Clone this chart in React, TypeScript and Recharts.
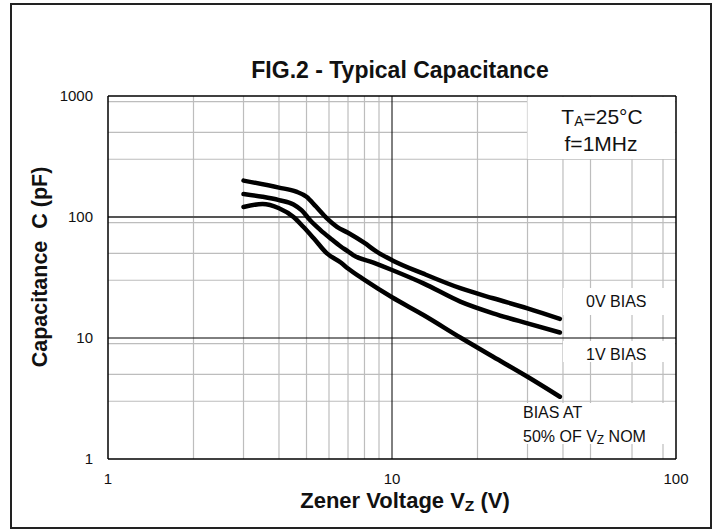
import React from "react";
import { LineChart, Line, XAxis, YAxis, CartesianGrid, ReferenceLine } from "recharts";

// Zener voltage (V) / capacitance (pF)
const zeroBiasV = [3.0, 4.0, 4.6, 5.0, 5.4, 5.9, 6.4, 7.0, 8.0, 8.8, 10, 12.9, 17.4, 22.7, 30, 39];
const zeroBiasC = [200, 175, 162, 147, 122, 97.5, 83, 74, 61, 52, 44, 34, 25.8, 21.3, 17.6, 14.4];

const oneBiasV = [3.0, 3.5, 4.0, 4.5, 4.8, 5.15, 5.6, 6.05, 6.6, 7.0, 7.3, 8.6, 10, 12.9, 17.4, 22.7, 30, 39];
const oneBiasC = [155, 147, 138, 127, 114, 94, 78, 67, 57, 52, 48.5, 42, 36.5, 28.3, 20, 16, 13.2, 11.1];

const halfBiasV = [3.0, 3.5, 4.0, 4.5, 4.87, 5.3, 5.9, 6.6, 7.0, 8.0, 10, 12.9, 17.4, 22.7, 30, 39];
const halfBiasC = [121, 128, 118, 100, 83, 66.7, 50, 42, 37.5, 30.2, 21.7, 15.5, 10.1, 7.0, 4.78, 3.27];

const xTicks = [1, 10, 100];
const yTicks = [1, 10, 100, 1000];
const xMinor = [2, 3, 4, 5, 6, 7, 8, 9, 20, 30, 40, 50, 60, 70, 80, 90];
const yMinor = [2, 3, 4, 5, 6, 7, 8, 9, 20, 30, 40, 50, 60, 70, 80, 90, 200, 300, 400, 500, 600, 700, 800, 900];

const toData = (vs: number[], cs: number[]) => vs.map((v, i) => ({ v, c: cs[i] }));
const zeroData = toData(zeroBiasV, zeroBiasC);
const oneData = toData(oneBiasV, oneBiasC);
const halfData = toData(halfBiasV, halfBiasC);

const FONT = "'Liberation Sans', Arial, sans-serif";

export default function App() {
  return (
    <div style={{ position: "absolute", left: 0, top: 0, width: 721, height: 529, background: "#fff" }}>
      <LineChart width={721} height={529} margin={{ top: 96, right: 45, bottom: 30, left: 8 }}>
        <CartesianGrid horizontalValues={yMinor} verticalValues={xMinor} stroke="#bdbdbd" strokeWidth={1.2} />
        <CartesianGrid horizontalValues={[100]} vertical={false} stroke="#555" strokeWidth={2} />
        <CartesianGrid horizontalValues={[10]} verticalValues={[10]} stroke="#000" strokeWidth={1} />
        <XAxis
          dataKey="v"
          type="number"
          scale="log"
          domain={[1, 100]}
          ticks={xTicks}
          allowDataOverflow
          height={40}
          tickSize={0}
          tickMargin={14}
          tickLine={false}
          axisLine={{ stroke: "#000", strokeWidth: 1.5 }}
          tick={{ fontSize: 15, fill: "#111", fontFamily: FONT }}
        />
        <YAxis
          dataKey="c"
          type="number"
          scale="log"
          domain={[1, 1000]}
          ticks={yTicks}
          allowDataOverflow
          width={100}
          tickSize={0}
          tickMargin={15}
          tickLine={false}
          axisLine={{ stroke: "#000", strokeWidth: 1.5 }}
          tick={{ fontSize: 15, fill: "#111", fontFamily: FONT }}
        />
        <ReferenceLine y={1000} stroke="#000" strokeWidth={1.5} />
        <ReferenceLine x={100} stroke="#000" strokeWidth={1.5} />
        <Line data={zeroData} dataKey="c" type="monotone" stroke="#000" strokeWidth={4.5} dot={false} strokeLinecap="round" strokeLinejoin="round" isAnimationActive={false} />
        <Line data={oneData} dataKey="c" type="monotone" stroke="#000" strokeWidth={4.5} dot={false} strokeLinecap="round" strokeLinejoin="round" isAnimationActive={false} />
        <Line data={halfData} dataKey="c" type="monotone" stroke="#000" strokeWidth={4.5} dot={false} strokeLinecap="round" strokeLinejoin="round" isAnimationActive={false} />
      </LineChart>
      <svg width={721} height={529} style={{ position: "absolute", left: 0, top: 0, pointerEvents: "none" }}>
        <rect x={11} y={4} width={700} height={524} fill="none" stroke="#222" strokeWidth={2} />
        {/* annotation backgrounds */}
        <rect x={527.5} y={97} width={147.5} height={62} fill="#fff" />
        <rect x={563} y={288} width={112} height={27} fill="#fff" />
        <rect x={563} y={341} width={112} height={21} fill="#fff" />
        <rect x={500} y={403} width={175} height={41} fill="#fff" />
        <text x={400} y={70} textAnchor="middle" dominantBaseline="central" fontFamily={FONT} fontWeight="bold" fontSize={23} fill="#111">
          FIG.2 - Typical Capacitance
        </text>
        <text x={40} y={267} transform="rotate(-90 40 267)" textAnchor="middle" dominantBaseline="central" fontFamily={FONT} fontWeight="bold" fontSize={21.5} fill="#111" style={{ whiteSpace: "pre" }}>
          {"Capacitance  C (pF)"}
        </text>
        <text x={405} y={500} textAnchor="middle" dominantBaseline="central" fontFamily={FONT} fontWeight="bold" fontSize={22} fill="#111">
          Zener Voltage V<tspan fontSize={15.5} dy={5}>Z</tspan><tspan dy={-5}> (V)</tspan>
        </text>
        <text x={602} y={116} textAnchor="middle" dominantBaseline="central" fontFamily={FONT} fontSize={21} fill="#111">
          T<tspan fontSize={14} dy={5}>A</tspan><tspan dy={-5}>=25°C</tspan>
        </text>
        <text x={601} y={143} textAnchor="middle" dominantBaseline="central" fontFamily={FONT} fontSize={21} fill="#111">
          f=1MHz
        </text>
        <text x={586} y={301} dominantBaseline="central" fontFamily={FONT} fontSize={16} fill="#111">0V BIAS</text>
        <text x={586} y={354} dominantBaseline="central" fontFamily={FONT} fontSize={16} fill="#111">1V BIAS</text>
        <text x={523} y={412} dominantBaseline="central" fontFamily={FONT} fontSize={16} fill="#111">BIAS AT</text>
        <text x={523} y={436} dominantBaseline="central" fontFamily={FONT} fontSize={16} fill="#111">
          50% OF V<tspan fontSize={12} dy={4}>Z</tspan><tspan dy={-4}> NOM</tspan>
        </text>
      </svg>
    </div>
  );
}
